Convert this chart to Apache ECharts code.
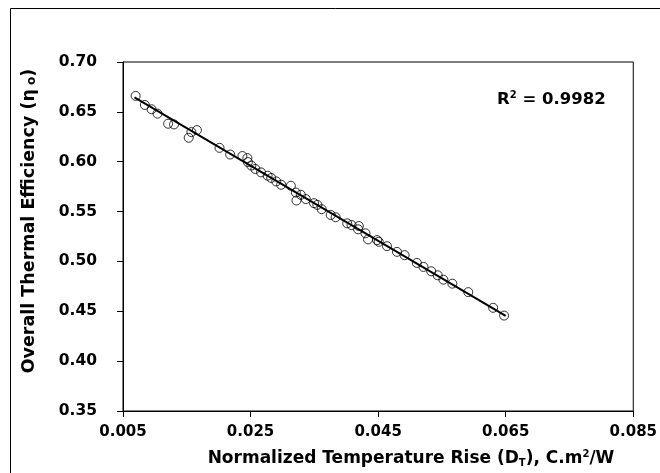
<!DOCTYPE html>
<html>
<head>
<meta charset="utf-8">
<script src="https://cdn.jsdelivr.net/npm/echarts@6/dist/echarts.min.js"></script>
<style>
html,body{margin:0;padding:0;background:#fff;}
#chart{width:660px;height:473px;}
</style>
</head>
<body>
<div id="chart"></div>
<script>
// Normalized temperature rise D_T (C.m2/W)
const dtValues = [
  0.00698, 0.00843, 0.00948, 0.01041, 0.01207, 0.01300, 0.01530, 0.01572, 0.01659, 0.02013,
  0.02180, 0.02372, 0.02450, 0.02458, 0.02512, 0.02575, 0.02664, 0.02767, 0.02824, 0.02902,
  0.02980, 0.03132, 0.03210, 0.03219, 0.03288, 0.03366, 0.03495, 0.03547, 0.03615, 0.03756,
  0.03834, 0.04015, 0.04083, 0.04197, 0.04186, 0.04302, 0.04342, 0.04483, 0.04509, 0.04639,
  0.04795, 0.04915, 0.05107, 0.05211, 0.05332, 0.05434, 0.05523, 0.05664, 0.05913, 0.06303,
  0.06475
];
// Overall thermal efficiency
const effValues = [
  0.6660, 0.6569, 0.6526, 0.6482, 0.6381, 0.6374, 0.6240, 0.6297, 0.6317, 0.6139,
  0.6072, 0.6057, 0.6036, 0.5996, 0.5961, 0.5927, 0.5893, 0.5860, 0.5837, 0.5802,
  0.5769, 0.5759, 0.5691, 0.5611, 0.5668, 0.5625, 0.5584, 0.5567, 0.5524, 0.5466,
  0.5443, 0.5382, 0.5365, 0.5355, 0.5322, 0.5282, 0.5221, 0.5214, 0.5197, 0.5153,
  0.5096, 0.5063, 0.4985, 0.4945, 0.4901, 0.4861, 0.4817, 0.4777, 0.4692, 0.4535,
  0.4457
];
// Linear trend line end points
const fitX = [0.0068, 0.0650];
const fitY = [0.6645, 0.4455];
// Axis tick labels
const xTicks = [0.005, 0.025, 0.045, 0.065, 0.085];
const yTicks = [0.35, 0.40, 0.45, 0.50, 0.55, 0.60, 0.65, 0.70];
const r2Text = '0.9982';

const chart = echarts.init(document.getElementById('chart'), null, {renderer: 'canvas'});
const FONT = 'DejaVu Sans';
const scatterData = dtValues.map((x, i) => [x, effValues[i]]);
const lineData = fitX.map((x, i) => [x, fitY[i]]);

const option = {
  backgroundColor: '#fff',
  animation: false,
  grid: {
    left: 123, right: 23, top: 62, bottom: 62,
    show: true, borderColor: '#000', borderWidth: 1, backgroundColor: 'transparent'
  },
  xAxis: {
    type: 'value',
    min: xTicks[0], max: xTicks[xTicks.length - 1],
    axisLine: {show: true, lineStyle: {color: '#000', width: 1}},
    axisTick: {show: true, length: 6, inside: false, customValues: xTicks, lineStyle: {color: '#000'}},
    splitLine: {show: false},
    axisLabel: {
      customValues: xTicks,
      margin: 14, color: '#000', fontFamily: FONT, fontWeight: 'bold', fontSize: 15,
      formatter: v => Number(v).toFixed(3)
    }
  },
  yAxis: {
    type: 'value',
    min: yTicks[0], max: yTicks[yTicks.length - 1], interval: 0.05,
    axisLine: {show: true, lineStyle: {color: '#000', width: 1}},
    axisTick: {show: true, length: 6, inside: false, lineStyle: {color: '#000'}},
    splitLine: {show: false},
    axisLabel: {
      margin: 26, color: '#000', fontFamily: FONT, fontWeight: 'bold', fontSize: 15.5,
      formatter: v => Number(v).toFixed(2)
    }
  },
  graphic: [
    {
      type: 'rect', left: 8, top: 6, silent: true, z: 0,
      shape: {x: 0, y: 0, width: 700, height: 520},
      style: {fill: 'none', stroke: '#000', lineWidth: 1}
    },
    {
      type: 'text', x: 411, y: 459, z: 10,
      style: {
        text: '{b|Normalized Temperature Rise (D}{s|T}{b|), C.m}{p|2}{b|/W}',
        align: 'center', verticalAlign: 'middle',
        rich: {
          b: {fontFamily: FONT, fontWeight: 'bold', fontSize: 17, fill: '#000'},
          s: {fontFamily: FONT, fontWeight: 'bold', fontSize: 10, fill: '#000', padding: [9, 0, 0, 0]},
          p: {fontFamily: FONT, fontWeight: 'bold', fontSize: 10, fill: '#000', padding: [0, 0, 9, 0]}
        }
      }
    },
    {
      type: 'text', x: 29, y: 221, rotation: Math.PI / 2, z: 10,
      style: {
        text: '{b|Overall Thermal Efficiency (η}{s| o}{b|)}',
        align: 'center', verticalAlign: 'middle',
        rich: {
          b: {fontFamily: FONT, fontWeight: 'bold', fontSize: 17.5, fill: '#000'},
          s: {fontFamily: FONT, fontWeight: 'bold', fontSize: 12, fill: '#000', padding: [6, 0, 0, 0]}
        }
      }
    },
    {
      type: 'text', x: 497, y: 100, z: 10,
      style: {
        text: '{b|R}{p|2}{b| = ' + r2Text + '}',
        align: 'left', verticalAlign: 'middle',
        rich: {
          b: {fontFamily: FONT, fontWeight: 'bold', fontSize: 16.5, fill: '#000'},
          p: {fontFamily: FONT, fontWeight: 'bold', fontSize: 10, fill: '#000', padding: [0, 0, 9, 0]}
        }
      }
    }
  ],
  series: [
    {
      type: 'line', data: lineData, symbol: 'none', z: 3,
      lineStyle: {color: '#000', width: 2}
    },
    {
      type: 'scatter', data: scatterData, symbol: 'circle', symbolSize: 9, z: 4,
      itemStyle: {color: 'rgba(255,255,255,0)', borderColor: '#000', borderWidth: 1}
    }
  ]
};
chart.setOption(option);
</script>
</body>
</html>
